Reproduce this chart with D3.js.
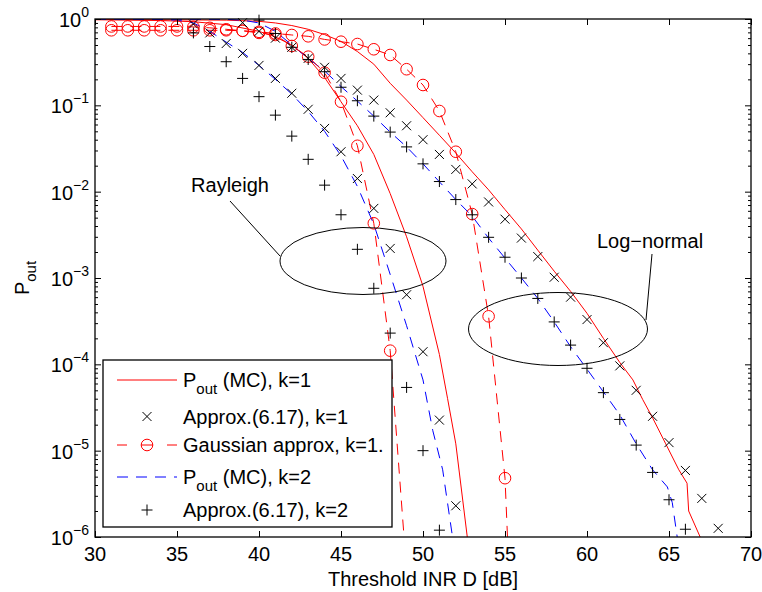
<!DOCTYPE html>
<html><head><meta charset="utf-8">
<script src="https://cdn.jsdelivr.net/npm/d3@7"></script>
<style>
body{margin:0;background:#fff;}
svg text{font-family:"Liberation Sans",Arial,Helvetica,sans-serif;fill:#000;}
</style></head><body>
<svg id="chart" width="762" height="592"></svg>
<script>
// ---------- data ----------
const xTicks = [30, 35, 40, 45, 50, 55, 60, 65, 70];
const yExponents = [0, -1, -2, -3, -4, -5, -6];

// P_out (MC), k=1 — Rayleigh branch
const rayMC1X = [30, 34, 36, 38, 40, 41, 42, 43, 44, 45, 46, 47, 48, 49, 50, 51, 51.5, 52, 52.7];
const rayMC1Y = [0.98, 0.96, 0.93, 0.86, 0.72, 0.62, 0.5, 0.35, 0.21, 0.11, 0.058, 0.027, 0.0095, 3e-3, 8e-4, 1.3e-4, 4e-5, 1.2e-5, 1e-6];
// P_out (MC), k=1 — log-normal branch
const lnMC1X = [30, 38, 40, 41, 42, 43, 44, 45, 46, 47, 48, 49, 50, 51, 52, 53, 54, 55, 56, 57, 58, 59, 60, 61, 62, 62.8, 63.4, 64, 64.8, 65.6, 66.1, 66.2, 66.9];
const lnMC1Y = [0.99, 0.97, 0.94, 0.9, 0.84, 0.76, 0.66, 0.55, 0.42, 0.3, 0.18, 0.115, 0.072, 0.045, 0.028, 0.017, 0.0105, 0.0062, 0.0037, 0.0021, 0.0012, 7e-4, 3.9e-4, 2.0e-4, 1.05e-4, 6.6e-5, 3.9e-5, 2.4e-5, 1.2e-5, 6e-6, 4.2e-6, 2e-6, 1e-6];

// Approx.(6.17), k=1
const rayAp1X = [36, 37, 38, 39, 40, 41, 42, 43, 44, 45, 46, 47, 48, 49, 50, 51, 52];
const rayAp1Y = [0.875, 0.69, 0.52, 0.4, 0.29, 0.205, 0.138, 0.09, 0.054, 0.029, 0.0142, 6.4e-3, 2.2e-3, 6.4e-4, 1.4e-4, 2.26e-5, 2.3e-6];
const lnAp1X = [39, 40, 41, 42, 43, 44, 45, 46, 47, 48, 49, 50, 51, 52, 53, 54, 55, 56, 57, 58, 59, 60, 61, 62, 63, 64, 65, 66, 67, 68];
const lnAp1Y = [0.906, 0.72, 0.6, 0.47, 0.35, 0.276, 0.205, 0.15, 0.115, 0.082, 0.058, 0.040, 0.027, 0.0181, 0.0123, 7.6e-3, 4.8e-3, 2.9e-3, 1.77e-3, 1.02e-3, 6e-4, 3.3e-4, 1.78e-4, 9.6e-5, 5e-5, 2.5e-5, 1.24e-5, 5.9e-6, 2.8e-6, 1.26e-6];

// Gaussian approx, k=1
const rayGaX = [31, 32, 33, 34, 35, 36, 37, 38, 39, 40, 41, 42, 43, 44, 45, 46, 47, 48, 49];
const rayGaY = [0.82, 0.82, 0.82, 0.82, 0.82, 0.81, 0.79, 0.76, 0.73, 0.69, 0.653, 0.487, 0.366, 0.239, 0.11, 0.034, 4.3e-3, 1.44e-4, 4e-7];
const lnGaX = [31, 32, 33, 34, 35, 36, 37, 38, 39, 40, 41, 42, 43, 44, 45, 46, 47, 48, 49, 50, 51, 52, 53, 54, 55, 56];
const lnGaY = [0.74, 0.74, 0.74, 0.74, 0.74, 0.74, 0.74, 0.74, 0.73, 0.71, 0.68, 0.653, 0.63, 0.58, 0.546, 0.513, 0.446, 0.383, 0.262, 0.172, 0.086, 0.029, 5.5e-3, 3.6e-4, 4.8e-6, 1.6e-10];

// P_out (MC), k=2
const rayMC2X = [30, 34, 35, 36, 37, 38, 39, 40, 41, 42, 43, 44, 45, 46, 47, 48, 49, 50, 50.6, 51.2, 51.8];
const rayMC2Y = [0.999, 0.99, 0.97, 0.9, 0.72, 0.54, 0.41, 0.29, 0.2, 0.135, 0.085, 0.05, 0.026, 0.0115, 4.2e-3, 1.1e-3, 2.8e-4, 6.6e-5, 1.7e-5, 6e-6, 1e-6];
const lnMC2X = [30, 38, 39, 40, 41, 42, 43, 44, 45, 46, 47, 48, 49, 50, 51, 52, 53, 54, 55, 56, 57, 58, 59, 60, 61, 62, 63, 64, 64.9, 65.2, 65.5];
const lnMC2Y = [0.999, 0.99, 0.97, 0.9, 0.72, 0.5, 0.35, 0.25, 0.165, 0.112, 0.075, 0.049, 0.033, 0.021, 0.013, 8.1e-3, 5.2e-3, 2.9e-3, 1.7e-3, 1e-3, 5.8e-4, 3.1e-4, 1.6e-4, 8.8e-5, 4.8e-5, 2.6e-5, 1.2e-5, 6e-6, 3.8e-6, 2.5e-6, 1e-6];

// Approx.(6.17), k=2
const rayAp2X = [36, 37, 38, 39, 40, 41, 42, 43, 44, 45, 46, 47, 48, 49, 50, 51];
const rayAp2Y = [0.69, 0.48, 0.32, 0.205, 0.126, 0.077, 0.044, 0.0237, 0.0119, 5.4e-3, 2.15e-3, 7.6e-4, 2.3e-4, 5.4e-5, 1e-5, 1.2e-6];
const lnAp2X = [40, 41, 42, 43, 44, 45, 46, 47, 48, 49, 50, 51, 52, 53, 54, 55, 56, 57, 58, 59, 60, 61, 62, 63, 64, 65, 66];
const lnAp2Y = [0.97, 0.68, 0.47, 0.34, 0.245, 0.162, 0.113, 0.075, 0.049, 0.033, 0.021, 0.0131, 8.1e-3, 5.4e-3, 2.96e-3, 1.74e-3, 1e-3, 5.8e-4, 3.1e-4, 1.67e-4, 9e-5, 4.7e-5, 2.3e-5, 1.16e-5, 5.6e-6, 2.7e-6, 1.23e-6];

const legendLabels = [
  {main: "P", sub: "out", rest: " (MC), k=1"},
  {main: "Approx.(6.17), k=1"},
  {main: "Gaussian approx, k=1."},
  {main: "P", sub: "out", rest: " (MC), k=2"},
  {main: "Approx.(6.17), k=2"}
];

// ---------- layout ----------
const M = {left: 95, right: 751, top: 19, bottom: 537};
const DASH = "11,8";
const svg = d3.select("#chart");
const x = d3.scaleLinear().domain([30, 70]).range([M.left, M.right]);
const y = d3.scaleLog().domain([1e-6, 1]).range([M.bottom, M.top]);

const zip = (xs, ys) => xs.map((v, i) => [v, ys[i]]);

const series = [
  {pts: zip(rayMC1X, rayMC1Y), color: "#ff0000", dash: null, marker: null},
  {pts: zip(lnMC1X, lnMC1Y), color: "#ff0000", dash: null, marker: null},
  {pts: zip(rayMC2X, rayMC2Y), color: "#0000ff", dash: DASH, marker: null},
  {pts: zip(lnMC2X, lnMC2Y), color: "#0000ff", dash: DASH, marker: null},
  {pts: zip(rayGaX, rayGaY), color: "#ff0000", dash: DASH, marker: "circle"},
  {pts: zip(lnGaX, lnGaY), color: "#ff0000", dash: DASH, marker: "circle"},
  {pts: zip(rayAp1X, rayAp1Y), color: "#000", dash: null, marker: "x", noLine: true},
  {pts: zip(lnAp1X, lnAp1Y), color: "#000", dash: null, marker: "x", noLine: true},
  {pts: zip(rayAp2X, rayAp2Y), color: "#000", dash: null, marker: "plus", noLine: true},
  {pts: zip(lnAp2X, lnAp2Y), color: "#000", dash: null, marker: "plus", noLine: true}
];

const markerPath = {
  x: "M-4.5,-4.5L4.5,4.5M-4.5,4.5L4.5,-4.5",
  plus: "M-5.5,0H5.5M0,-5.5V5.5"
};

function drawMarker(g, type, color, cx, cy) {
  if (type === "circle") {
    g.append("circle").attr("cx", cx).attr("cy", cy).attr("r", 5.8)
      .attr("fill", "none").attr("stroke", color).attr("stroke-width", 1);
  } else {
    g.append("path").attr("d", markerPath[type]).attr("transform", `translate(${cx},${cy})`)
      .attr("fill", "none").attr("stroke", color).attr("stroke-width", 1);
  }
}

// clip region for the curves
svg.append("defs").append("clipPath").attr("id", "plotClip")
  .append("rect").attr("x", M.left).attr("y", M.top)
  .attr("width", M.right - M.left).attr("height", M.bottom - M.top);

const plot = svg.append("g").attr("clip-path", "url(#plotClip)");
const line = d3.line().x(d => x(d[0])).y(d => y(Math.max(d[1], 1e-12)));

// lines first
series.filter(s => !s.noLine).forEach(s => {
  plot.append("path").datum(s.pts).attr("d", line)
    .attr("fill", "none").attr("stroke", s.color).attr("stroke-width", 1)
    .attr("stroke-dasharray", s.dash);
});
// markers
const mk = svg.append("g");
series.filter(s => s.marker).forEach(s => {
  s.pts.filter(p => p[1] >= 1e-6 && p[1] <= 1).forEach(p => drawMarker(mk, s.marker, s.color, x(p[0]), y(p[1])));
});

// ---------- axes ----------
const majors = yExponents.map(e => Math.pow(10, e));
const minors = [];
for (let e = -6; e < 0; e++) for (let k = 2; k <= 9; k++) minors.push(k * Math.pow(10, e));

function styleAxis(g) {
  g.select(".domain").remove();
  g.selectAll(".tick line").attr("stroke", "#000").attr("stroke-width", 1);
  g.selectAll(".tick text").remove();
}
svg.append("g").attr("transform", `translate(0,${M.bottom})`)
  .call(d3.axisBottom(x).tickValues(xTicks).tickSize(-6)).call(styleAxis);
svg.append("g").attr("transform", `translate(0,${M.top})`)
  .call(d3.axisTop(x).tickValues(xTicks).tickSize(-6)).call(styleAxis);
svg.append("g").attr("transform", `translate(${M.left},0)`)
  .call(d3.axisLeft(y).tickValues(majors).tickSize(-6)).call(styleAxis);
svg.append("g").attr("transform", `translate(${M.left},0)`)
  .call(d3.axisLeft(y).tickValues(minors).tickSize(-3)).call(styleAxis);
svg.append("g").attr("transform", `translate(${M.right},0)`)
  .call(d3.axisRight(y).tickValues(majors).tickSize(-6)).call(styleAxis);
svg.append("g").attr("transform", `translate(${M.right},0)`)
  .call(d3.axisRight(y).tickValues(minors).tickSize(-3)).call(styleAxis);

svg.append("rect").attr("x", M.left).attr("y", M.top)
  .attr("width", M.right - M.left).attr("height", M.bottom - M.top)
  .attr("fill", "none").attr("stroke", "#000").attr("stroke-width", 1.3);

// tick labels
svg.append("g").selectAll("text").data(xTicks).join("text")
  .attr("x", d => x(d)).attr("y", M.bottom + 24)
  .attr("text-anchor", "middle").attr("font-size", 20).text(d => d);

const yl = svg.append("g").selectAll("text").data(yExponents).join("text")
  .attr("x", 89).attr("y", d => y(Math.pow(10, d)) + 8)
  .attr("text-anchor", "end").attr("font-size", 20);
yl.append("tspan").text("10");
yl.append("tspan").attr("dy", -10).attr("font-size", 14)
  .text(d => d === 0 ? "0" : "\u2212" + Math.abs(d));

// axis titles
svg.append("text").attr("x", (M.left + M.right) / 2).attr("y", 586)
  .attr("text-anchor", "middle").attr("font-size", 20).text("Threshold INR D [dB]");
const yt = svg.append("text").attr("transform", "translate(29,278) rotate(-90)")
  .attr("text-anchor", "middle").attr("font-size", 20);
yt.append("tspan").text("P");
yt.append("tspan").attr("dy", 7).attr("font-size", 15).text("out");

// ---------- annotations ----------
const ann = svg.append("g").attr("fill", "none").attr("stroke", "#000").attr("stroke-width", 1);
ann.append("ellipse").attr("cx", 363).attr("cy", 261).attr("rx", 83).attr("ry", 33.5);
ann.append("line").attr("x1", 280).attr("y1", 256).attr("x2", 230).attr("y2", 201);
ann.append("ellipse").attr("cx", 558).attr("cy", 329).attr("rx", 89.5).attr("ry", 36.5);
ann.append("line").attr("x1", 646).attr("y1", 320).attr("x2", 652).attr("y2", 254);
svg.append("text").attr("x", 230).attr("y", 192).attr("text-anchor", "middle")
  .attr("font-size", 20).text("Rayleigh");
svg.append("text").attr("x", 650).attr("y", 248).attr("text-anchor", "middle")
  .attr("font-size", 20).text("Log\u2212normal");

// ---------- legend ----------
const lg = svg.append("g");
lg.append("rect").attr("x", 103).attr("y", 360).attr("width", 289).attr("height", 167)
  .attr("fill", "#fff").attr("stroke", "#000").attr("stroke-width", 1.3);
const rowY = [380, 416.5, 445, 477, 510];
const legendStyle = [
  {color: "#ff0000", dash: null, marker: null, line: true},
  {color: "#000", marker: "x", line: false},
  {color: "#ff0000", dash: "10,14,12,14,10", marker: "circle", line: true},
  {color: "#0000ff", dash: DASH, marker: null, line: true},
  {color: "#000", marker: "plus", line: false}
];
legendLabels.forEach((lab, i) => {
  const st = legendStyle[i], cy = rowY[i];
  if (st.line) {
    lg.append("line").attr("x1", 117).attr("x2", 177).attr("y1", cy).attr("y2", cy)
      .attr("stroke", st.color).attr("stroke-width", 1).attr("stroke-dasharray", st.dash);
  }
  if (st.marker) drawMarker(lg, st.marker, st.color, 147, cy);
  const t = lg.append("text").attr("x", 183).attr("y", cy + 7).attr("font-size", 20);
  t.append("tspan").text(lab.main);
  if (lab.sub) {
    t.append("tspan").attr("dy", 7).attr("font-size", 15).text(lab.sub);
    t.append("tspan").attr("dy", -7).text(lab.rest);
  }
});
</script>
</body></html>
